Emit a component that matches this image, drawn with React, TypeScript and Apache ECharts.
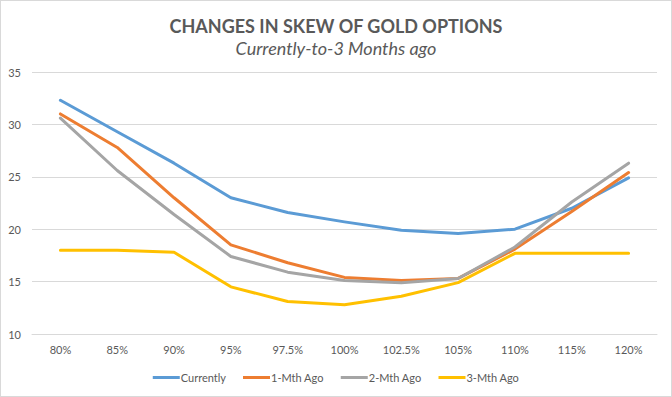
import React, { useEffect, useRef } from "react";
import * as echarts from "echarts";

const categories = ["80%", "85%", "90%", "95%", "97.5%", "100%", "102.5%", "105%", "110%", "115%", "120%"];
const currently = [32.3, 29.3, 26.3, 23.0, 21.6, 20.7, 19.9, 19.6, 20.0, 22.0, 24.9];
const oneMthAgo = [31.0, 27.8, 23.0, 18.5, 16.8, 15.4, 15.1, 15.3, 18.1, 21.7, 25.4];
const twoMthAgo = [30.6, 25.6, 21.4, 17.4, 15.9, 15.1, 14.9, 15.3, 18.3, 22.6, 26.3];
const threeMthAgo = [18.0, 18.0, 17.8, 14.5, 13.1, 12.8, 13.6, 14.9, 17.7, 17.7, 17.7];

const seriesNames = ["Currently", "1-Mth Ago", "2-Mth Ago", "3-Mth Ago"];
const seriesData = [currently, oneMthAgo, twoMthAgo, threeMthAgo];
const colors = ["#5B9BD5", "#ED7D31", "#A5A5A5", "#FFC000"];

export default function App() {
  const ref = useRef<HTMLDivElement>(null);
  useEffect(() => {
    if (!ref.current) return;
    const chart = echarts.init(ref.current, undefined, { renderer: "svg" });
    chart.setOption({
      animation: false,
      backgroundColor: "#ffffff",
      color: colors,
      title: [
        {
          text: "CHANGES IN SKEW OF GOLD OPTIONS",
          left: "center",
          top: 11,
          textStyle: { fontFamily: "Lato", fontSize: 18, fontWeight: "bold", color: "#595959" },
        },
        {
          text: "Currently-to-3 Months ago",
          left: "center",
          top: 33,
          textStyle: { fontFamily: "Lato", fontSize: 18, fontStyle: "italic", fontWeight: "normal", color: "#595959" },
        },
      ],
      grid: { left: 31, right: 14, top: 71, bottom: 62, containLabel: false },
      legend: {
        top: 366,
        left: "center",
        icon: "rect",
        itemWidth: 27,
        itemHeight: 3,
        itemGap: 17,
        textStyle: { fontFamily: "Lato", fontSize: 11, color: "#595959", padding: [0, 0, 0, -4] },
        data: seriesNames,
      },
      xAxis: {
        type: "category",
        data: categories,
        boundaryGap: true,
        axisLine: { lineStyle: { color: "#D9D9D9" } },
        axisTick: { show: false },
        axisLabel: { fontFamily: "Lato", fontSize: 11, color: "#595959", margin: 10 },
      },
      yAxis: {
        type: "value",
        min: 10,
        max: 35,
        interval: 5,
        axisLine: { show: false },
        axisTick: { show: false },
        splitLine: { lineStyle: { color: "#D9D9D9" } },
        axisLabel: { fontFamily: "Lato", fontSize: 11, color: "#595959", margin: 11 },
      },
      series: seriesNames.map((name, i) => ({
        name,
        type: "line",
        data: seriesData[i],
        symbol: "none",
        lineStyle: { width: 3, color: colors[i], cap: "round", join: "round" },
        itemStyle: { color: colors[i] },
      })),
    });
    return () => chart.dispose();
  }, []);
  return (
    <div
      ref={ref}
      style={{
        position: "fixed",
        left: 0,
        top: 0,
        width: 672,
        height: 397,
        boxSizing: "border-box",
        border: "1px solid #D9D9D9",
      }}
    />
  );
}
